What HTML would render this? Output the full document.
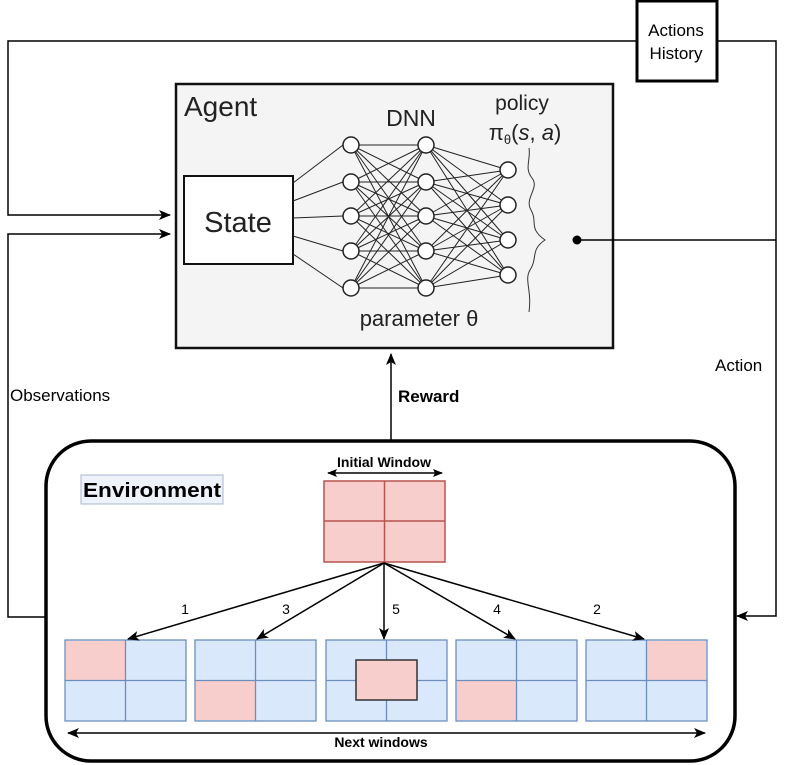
<!DOCTYPE html>
<html><head><style>body{margin:0;background:#fff}svg{display:block}</style></head><body>
<svg width="786" height="765" viewBox="0 0 786 765" xmlns="http://www.w3.org/2000/svg" font-family="Liberation Sans, sans-serif">
<defs>
<marker id="a" markerWidth="10" markerHeight="8" refX="9" refY="4" orient="auto-start-reverse" markerUnits="userSpaceOnUse"><path d="M0,0 L10,4 L0,8 L2,4 Z" fill="#000"/></marker>
<marker id="b" markerWidth="12" markerHeight="10" refX="11" refY="5" orient="auto-start-reverse" markerUnits="userSpaceOnUse"><path d="M0,0 L12,5 L0,10 L3,5 Z" fill="#000"/></marker>
</defs>
<g fill="none" stroke="#000" stroke-width="1.5">
<polyline points="636,41 8,41 8,215 170,215" marker-end="url(#b)"/>
<polyline points="717,41 776,41 776,616 737,616" marker-end="url(#b)"/>
<polyline points="45,617 8,617 8,234 170,234" marker-end="url(#b)"/>
<line x1="391" y1="440" x2="391" y2="354" marker-end="url(#b)"/>
</g>
<rect x="637" y="1" width="80" height="80" fill="#fff" stroke="#000" stroke-width="3"/>
<text x="676" y="36" font-size="17" text-anchor="middle">Actions</text>
<text x="676" y="59" font-size="17" text-anchor="middle">History</text>
<rect x="176" y="84" width="437" height="264" fill="#f4f4f4" stroke="#111" stroke-width="2.5"/>
<line x1="577" y1="240" x2="776" y2="240" stroke="#000" stroke-width="1.5"/>
<circle cx="577" cy="240" r="4.5" fill="#000"/>
<text x="184" y="116" font-size="28" fill="#222">Agent</text>
<rect x="184" y="176" width="109" height="88" fill="#fff" stroke="#111" stroke-width="2"/>
<text x="238" y="232" font-size="29" text-anchor="middle" fill="#222">State</text>
<text x="411" y="126" font-size="23" text-anchor="middle" fill="#222">DNN</text>
<text x="522" y="110" font-size="21" text-anchor="middle" fill="#222">policy</text>
<text x="525" y="140" font-size="22" text-anchor="middle" fill="#222">π<tspan font-size="13" dy="4">θ</tspan><tspan dy="-4">(</tspan><tspan font-style="italic">s</tspan>, <tspan font-style="italic">a</tspan>)</text>
<text x="419" y="326" font-size="22" text-anchor="middle" fill="#222">parameter θ</text>
<g stroke="#222" stroke-width="1">
<line x1="293" y1="183" x2="343" y2="145"/><line x1="293" y1="201" x2="343" y2="182"/><line x1="293" y1="218" x2="343" y2="216"/><line x1="293" y1="236" x2="343" y2="251"/><line x1="293" y1="254" x2="343" y2="288"/>
<line x1="351" y1="145" x2="426" y2="145"/><line x1="351" y1="145" x2="426" y2="182"/><line x1="351" y1="145" x2="426" y2="216"/><line x1="351" y1="145" x2="426" y2="251"/><line x1="351" y1="145" x2="426" y2="288"/>
<line x1="351" y1="182" x2="426" y2="145"/><line x1="351" y1="182" x2="426" y2="182"/><line x1="351" y1="182" x2="426" y2="216"/><line x1="351" y1="182" x2="426" y2="251"/><line x1="351" y1="182" x2="426" y2="288"/>
<line x1="351" y1="216" x2="426" y2="145"/><line x1="351" y1="216" x2="426" y2="182"/><line x1="351" y1="216" x2="426" y2="216"/><line x1="351" y1="216" x2="426" y2="251"/><line x1="351" y1="216" x2="426" y2="288"/>
<line x1="351" y1="251" x2="426" y2="145"/><line x1="351" y1="251" x2="426" y2="182"/><line x1="351" y1="251" x2="426" y2="216"/><line x1="351" y1="251" x2="426" y2="251"/><line x1="351" y1="251" x2="426" y2="288"/>
<line x1="351" y1="288" x2="426" y2="145"/><line x1="351" y1="288" x2="426" y2="182"/><line x1="351" y1="288" x2="426" y2="216"/><line x1="351" y1="288" x2="426" y2="251"/><line x1="351" y1="288" x2="426" y2="288"/>
<line x1="426" y1="145" x2="508" y2="170"/><line x1="426" y1="145" x2="508" y2="205"/><line x1="426" y1="145" x2="508" y2="240"/><line x1="426" y1="145" x2="508" y2="275"/>
<line x1="426" y1="182" x2="508" y2="170"/><line x1="426" y1="182" x2="508" y2="205"/><line x1="426" y1="182" x2="508" y2="240"/><line x1="426" y1="182" x2="508" y2="275"/>
<line x1="426" y1="216" x2="508" y2="170"/><line x1="426" y1="216" x2="508" y2="205"/><line x1="426" y1="216" x2="508" y2="240"/><line x1="426" y1="216" x2="508" y2="275"/>
<line x1="426" y1="251" x2="508" y2="170"/><line x1="426" y1="251" x2="508" y2="205"/><line x1="426" y1="251" x2="508" y2="240"/><line x1="426" y1="251" x2="508" y2="275"/>
<line x1="426" y1="288" x2="508" y2="170"/><line x1="426" y1="288" x2="508" y2="205"/><line x1="426" y1="288" x2="508" y2="240"/><line x1="426" y1="288" x2="508" y2="275"/>
</g>
<g fill="#fff" stroke="#222" stroke-width="1.5">
<circle cx="351" cy="145" r="8"/><circle cx="351" cy="182" r="8"/><circle cx="351" cy="216" r="8"/><circle cx="351" cy="251" r="8"/><circle cx="351" cy="288" r="8"/>
<circle cx="426" cy="145" r="8"/><circle cx="426" cy="182" r="8"/><circle cx="426" cy="216" r="8"/><circle cx="426" cy="251" r="8"/><circle cx="426" cy="288" r="8"/>
<circle cx="508" cy="170" r="8"/><circle cx="508" cy="205" r="8"/><circle cx="508" cy="240" r="8"/><circle cx="508" cy="275" r="8"/>
</g>
<path d="M529,148 C531,160 524,168 532,178 C540,188 524,198 531,210 C538,222 528,228 545,240 C530,250 538,258 530,270 C524,280 532,290 529,312" fill="none" stroke="#333" stroke-width="1"/>
<text x="10" y="401" font-size="17">Observations</text>
<text x="715" y="371" font-size="17">Action</text>
<text x="398" y="402" font-size="17" font-weight="bold">Reward</text>
<rect x="46" y="441" width="689" height="320" rx="45" fill="#fff" stroke="#000" stroke-width="3.5"/>
<rect x="81" y="475" width="142" height="29" fill="#eef3fb" stroke="#aab6cc" stroke-width="1"/>
<text x="83" y="497" font-size="20" font-weight="bold" textLength="138" lengthAdjust="spacingAndGlyphs">Environment</text>
<text x="384" y="467" font-size="14" font-weight="bold" text-anchor="middle">Initial Window</text>
<line x1="328" y1="473" x2="442" y2="473" stroke="#000" stroke-width="1.5" marker-start="url(#a)" marker-end="url(#a)"/>
<g stroke="#b85450" stroke-width="1.5" fill="#f8cecc">
<rect x="324" y="481" width="121" height="81"/>
<line x1="384.5" y1="481" x2="384.5" y2="562"/><line x1="324" y1="521" x2="445" y2="521"/>
</g>
<g stroke="#6c8ebf" stroke-width="1.3">
<g fill="#dae8fc">
<rect x="65" y="640" width="121" height="81"/><rect x="195" y="640" width="121" height="81"/><rect x="326" y="640" width="121" height="81"/><rect x="456" y="640" width="121" height="81"/><rect x="586" y="640" width="121" height="81"/>
</g>
<g fill="#f8cecc" stroke="none">
<rect x="66" y="641" width="59" height="39"/><rect x="196" y="681" width="59" height="39"/><rect x="457" y="681" width="59" height="39"/><rect x="647" y="641" width="59" height="39"/>
</g>
<line x1="125.5" y1="640" x2="125.5" y2="721"/><line x1="65" y1="680.5" x2="186" y2="680.5"/>
<line x1="255.5" y1="640" x2="255.5" y2="721"/><line x1="195" y1="680.5" x2="316" y2="680.5"/>
<line x1="386.5" y1="640" x2="386.5" y2="721"/><line x1="326" y1="680.5" x2="447" y2="680.5"/>
<line x1="516.5" y1="640" x2="516.5" y2="721"/><line x1="456" y1="680.5" x2="577" y2="680.5"/>
<line x1="646.5" y1="640" x2="646.5" y2="721"/><line x1="586" y1="680.5" x2="707" y2="680.5"/>
</g>
<rect x="356" y="660" width="61" height="40" fill="#f8cecc" stroke="#333" stroke-width="1.5"/>
<g stroke="#000" stroke-width="1.5" fill="none">
<line x1="384" y1="563" x2="128" y2="639" marker-end="url(#b)"/>
<line x1="384" y1="563" x2="257" y2="639" marker-end="url(#b)"/>
<line x1="384" y1="563" x2="384" y2="639" marker-end="url(#b)"/>
<line x1="384" y1="563" x2="515" y2="639" marker-end="url(#b)"/>
<line x1="384" y1="563" x2="644" y2="639" marker-end="url(#b)"/>
<line x1="68" y1="733" x2="705" y2="733" marker-start="url(#b)" marker-end="url(#b)"/>
</g>
<g font-size="14" text-anchor="middle">
<text x="185" y="614">1</text><text x="286" y="614">3</text><text x="396" y="614">5</text><text x="497" y="614">4</text><text x="597" y="614">2</text>
</g>
<text x="381" y="747" font-size="14" font-weight="bold" text-anchor="middle">Next windows</text>
</svg>
</body></html>
